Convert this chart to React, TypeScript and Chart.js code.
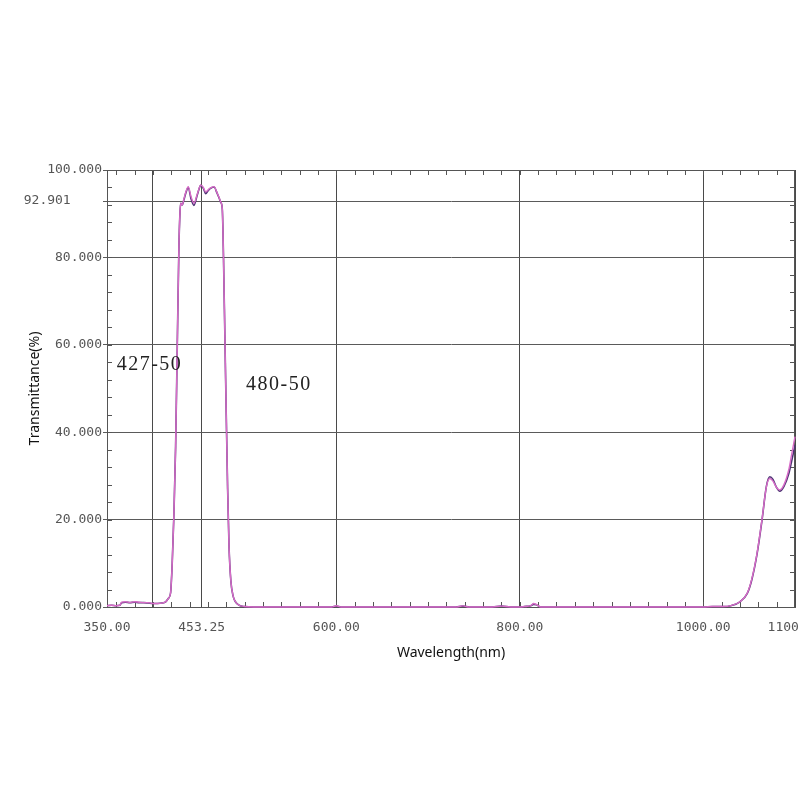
import React, { useEffect, useRef } from 'react';
import { Chart, registerables } from 'chart.js';

Chart.register(...registerables);

// Wavelength (nm) sample positions
const wavelengths = [
  350, 355, 360, 364, 366, 370, 375, 380, 385, 390, 395, 400, 405, 410, 414, 417,
  419.3, 421.1, 423, 424.8, 426.6, 428.4, 429.5, 430.3, 432, 434, 436, 438.6, 441.5,
  444.8, 448, 450, 452.1, 455, 457.6, 460, 462, 466.7, 470, 472, 474, 475.7, 477,
  478.5, 480, 481.5, 483, 485, 487.5, 490, 494, 500, 510, 560, 595, 600, 605, 610,
  700, 730, 738, 745, 750, 770, 780, 790, 800, 805, 812, 815, 818, 823, 830, 900,
  980, 1000, 1010, 1022, 1030, 1040, 1048, 1053, 1058.7, 1064, 1068.8, 1072.5, 1076,
  1080, 1083.4, 1088, 1093.2, 1096, 1100,
];

// Transmittance (%) – pink scan
const pinkScan = [
  0.3, 0.4, 0.3, 0.4, 1.1, 1.2, 1.0, 1.2, 1.1, 1.0, 1.0, 0.8, 0.8, 0.9, 1.2, 2.0,
  3.2, 10, 21.5, 36.7, 59.6, 82.5, 90, 92.4, 92.0, 93.5, 95.0, 96.2, 94.0,
  92.4, 94.2, 95.5, 96.6, 96.0, 95.0, 95.4, 95.8, 96.2, 94.8, 93.8, 92.7, 91, 80,
  62, 44, 27, 14, 6, 2.5, 1.2, 0.4, 0.1, 0, 0, 0, 0.3, 0, 0,
  0, 0, 0.25, 0, 0, 0, 0.2, 0, 0, 0.1, 0.3, 0.8, 0.6, 0, 0, 0,
  0, 0, 0.1, 0.1, 0.3, 1.2, 3.2, 6.5, 12.4, 20, 27.5, 29.4, 28.8,
  27.3, 26.8, 28, 31.4, 34.5, 39,
];

// Transmittance (%) – dark scan
const darkScan = [
  0.3, 0.4, 0.3, 0.4, 1.0, 1.1, 1.0, 1.1, 1.0, 1.0, 0.9, 0.8, 0.8, 0.9, 1.2, 2.0,
  3.2, 10, 21.5, 36.7, 59.6, 82.5, 90, 92.4, 92.0, 93.3, 94.8, 96.0, 93.5,
  91.9, 94.0, 95.4, 96.5, 95.8, 94.6, 95.2, 95.7, 96.1, 94.7, 93.7, 92.6, 91, 80,
  62, 44, 27, 14, 6, 2.5, 1.2, 0.4, 0.1, 0, 0, 0, 0.2, 0, 0,
  0, 0, 0.2, 0, 0, 0, 0.2, 0, 0, 0.1, 0.3, 0.6, 0.5, 0, 0, 0,
  0, 0, 0.1, 0.1, 0.3, 1.2, 3.1, 6.3, 12.2, 19.8, 27.6, 29.8, 29.2,
  27.3, 26.5, 27.6, 30.5, 33, 37,
];

const xTickValues = [350, 400, 453.25, 600, 800, 1000, 1100];
const xTickLabels = ['350.00', '', '453.25', '600.00', '800.00', '1000.00', '1100.00'];
const yTickValues = [0, 20, 40, 60, 80, 92.901, 100];
const yTickLabels = ['0.000', '20.000', '40.000', '60.000', '80.000', '92.901    ', '100.000'];
const filterNames = ['427-50', '480-50'];

const framePlugin = {
  id: 'frameAndMinorTicks',
  beforeDatasetsDraw(chart: any) {
    const { ctx, chartArea, scales } = chart;
    const { left, right, top, bottom } = chartArea;
    const x = scales.x;
    const y = scales.y;
    ctx.save();
    ctx.strokeStyle = '#555';
    ctx.lineWidth = 1;
    ctx.beginPath();
    for (let v = 360; v < 1100; v += 20) {
      const px = Math.round(x.getPixelForValue(v)) + 0.5;
      ctx.moveTo(px, bottom);
      ctx.lineTo(px, bottom - 5);
      ctx.moveTo(px, top);
      ctx.lineTo(px, top + 5);
    }
    for (let v = 4; v < 100; v += 4) {
      const py = Math.round(y.getPixelForValue(v)) + 0.5;
      ctx.moveTo(left, py);
      ctx.lineTo(left + 5, py);
      ctx.moveTo(right, py);
      ctx.lineTo(right - 5, py);
    }
    ctx.stroke();
    ctx.beginPath();
    ctx.moveTo(Math.round(left) + 0.5, Math.round(top) + 0.5);
    ctx.lineTo(Math.round(right) - 0.5, Math.round(top) + 0.5);
    ctx.lineTo(Math.round(right) - 0.5, Math.round(bottom) + 0.5);
    ctx.stroke();
    ctx.restore();
  },
  afterDraw(chart: any) {
    const { ctx, scales } = chart;
    const x = scales.x;
    const y = scales.y;
    ctx.save();
    ctx.fillStyle = '#222';
    ctx.font = '20px "Liberation Serif", "DejaVu Serif", serif';
    (ctx as any).letterSpacing = '1.5px';
    ctx.textAlign = 'left';
    ctx.textBaseline = 'middle';
    ctx.fillText(filterNames[0], x.getPixelForValue(360.5), y.getPixelForValue(55.4));
    ctx.fillText(filterNames[1], x.getPixelForValue(501.5), y.getPixelForValue(50.8));
    ctx.restore();
  },
};

export default function App() {
  const canvasRef = useRef<HTMLCanvasElement | null>(null);

  useEffect(() => {
    const canvas = canvasRef.current;
    if (!canvas) return;
    const tickFont = { family: '"DejaVu Sans Mono", monospace', size: 13 };
    const chart = new Chart(canvas, {
      type: 'line',
      data: {
        datasets: [
          {
            label: 'pink',
            data: wavelengths.map((w, i) => ({ x: w, y: pinkScan[i] })),
            borderColor: '#d86cc8',
            borderWidth: 1.4,
            pointRadius: 0,
            cubicInterpolationMode: 'monotone',
            clip: 3,
          },
          {
            label: 'dark',
            data: wavelengths.map((w, i) => ({ x: w, y: darkScan[i] })),
            borderColor: '#503475',
            borderWidth: 1.6,
            pointRadius: 0,
            cubicInterpolationMode: 'monotone',
            clip: 3,
          },
        ],
      },
      options: {
        animation: false,
        responsive: false,
        maintainAspectRatio: false,
        layout: { padding: { top: 170, bottom: 133, left: 0, right: 5 } },
        plugins: {
          legend: { display: false },
          tooltip: { enabled: false },
        },
        scales: {
          x: {
            type: 'linear',
            min: 350,
            max: 1100,
            afterBuildTicks: (scale: any) => {
              scale.ticks = xTickValues.map((v) => ({ value: v }));
            },
            afterFit: (scale: any) => {
              scale.height = 60;
              scale.paddingLeft = 0;
              scale.paddingRight = 0;
            },
            ticks: {
              autoSkip: false,
              maxRotation: 0,
              minRotation: 0,
              padding: 13,
              color: '#555',
              font: tickFont,
              callback: (_v: any, i: number) => xTickLabels[i],
            },
            grid: { color: '#4a4a4a', lineWidth: 1, drawTicks: false },
            border: { display: true, color: '#555' },
            title: {
              display: true,
              text: 'Wavelength(nm)',
              color: '#111',
              font: { family: '"Noto Sans", sans-serif', size: 14 },
              padding: { top: 0, bottom: 6 },
            },
          },
          y: {
            type: 'linear',
            min: 0,
            max: 100,
            afterBuildTicks: (scale: any) => {
              scale.ticks = yTickValues.map((v) => ({ value: v }));
            },
            afterFit: (scale: any) => {
              scale.width = 107;
              scale.paddingTop = 0;
              scale.paddingBottom = 0;
            },
            ticks: {
              autoSkip: false,
              padding: 1,
              color: '#555',
              font: tickFont,
              callback: (_v: any, i: number) => yTickLabels[i],
            },
            grid: { color: '#5a5a5a', lineWidth: 1, drawTicks: true, tickLength: 4 },
            border: { display: true, color: '#555' },
            title: {
              display: true,
              text: 'Transmittance(%)',
              color: '#111',
              font: { family: '"Noto Sans", sans-serif', size: 14 },
              padding: { top: 27, bottom: 0 },
            },
          },
        },
      },
      plugins: [framePlugin],
    } as any);
    return () => chart.destroy();
  }, []);

  return (
    <div style={{ position: 'absolute', left: 0, top: 0, width: 800, height: 800, background: '#fff' }}>
      <canvas ref={canvasRef} width={800} height={800} style={{ width: 800, height: 800, display: 'block' }} />
    </div>
  );
}
